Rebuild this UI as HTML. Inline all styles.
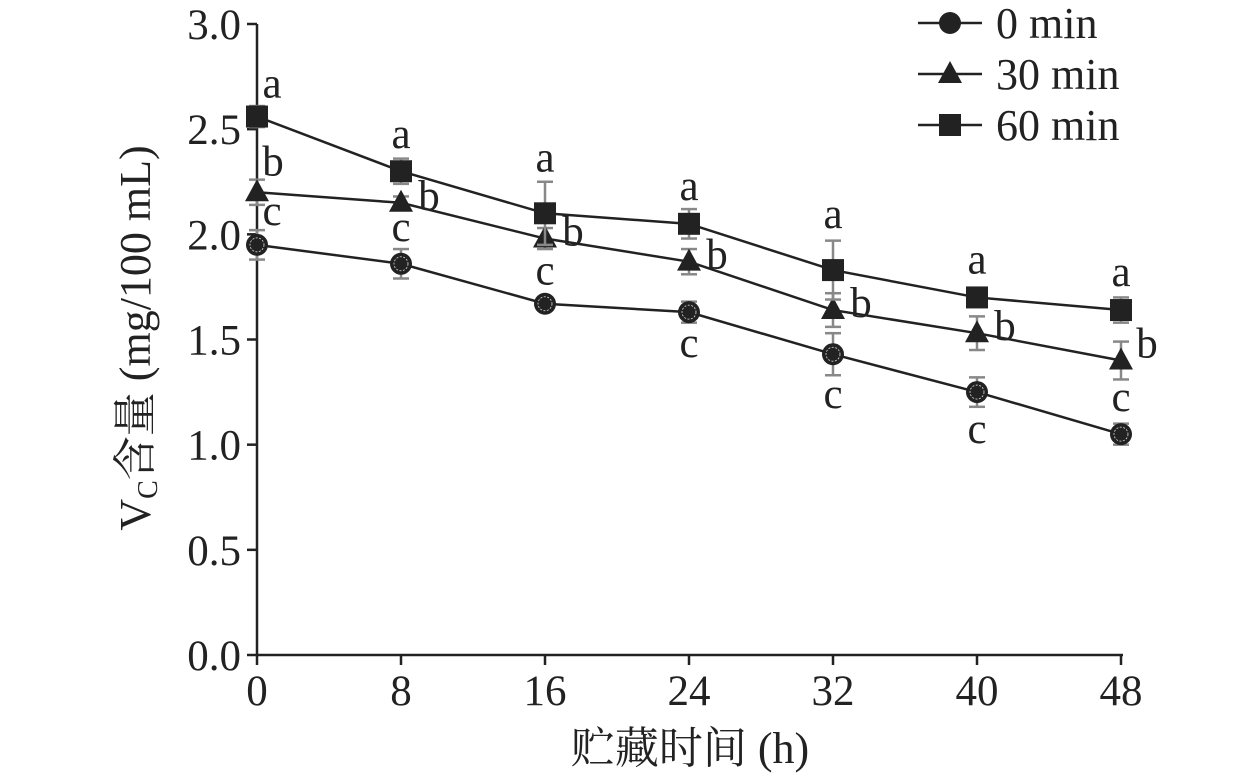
<!DOCTYPE html>
<html><head><meta charset="utf-8">
<style>
html,body{margin:0;padding:0;background:#fff;}
svg{display:block;font-family:"Liberation Serif","Noto Serif CJK SC",serif;}
</style></head>
<body>
<svg id="chart" width="1260" height="783" viewBox="0 0 1260 783" xmlns="http://www.w3.org/2000/svg"></svg>
<script>
const categories = [0, 8, 16, 24, 32, 40, 48];
const series0 = [1.95, 1.86, 1.67, 1.63, 1.43, 1.25, 1.05];
const err0 = [0.07, 0.07, 0.02, 0.05, 0.10, 0.07, 0.05];
const series30 = [2.20, 2.15, 1.98, 1.87, 1.64, 1.53, 1.40];
const err30 = [0.06, 0.03, 0.05, 0.06, 0.08, 0.08, 0.09];
const series60 = [2.56, 2.30, 2.10, 2.05, 1.83, 1.70, 1.64];
const err60 = [0.05, 0.06, 0.15, 0.07, 0.14, 0.03, 0.06];
const letters0 = ['c','c','c','c','c','c','c'];
const letters30 = ['b','b','b','b','b','b','b'];
const letters60 = ['a','a','a','a','a','a','a'];
const yTicks = ['0.0','0.5','1.0','1.5','2.0','2.5','3.0'];
const xTicks = ['0','8','16','24','32','40','48'];

const svg = document.getElementById('chart');
const NS = 'http://www.w3.org/2000/svg';
const X0 = 257, X1 = 1121, Y0 = 655, Y1 = 24;
const xs = v => X0 + (v - 0) / 48 * (X1 - X0);
const ys = v => Y0 - v / 3 * (Y0 - Y1);
function mk(tag, attrs, parent) {
  const e = document.createElementNS(NS, tag);
  for (const k in attrs) e.setAttribute(k, attrs[k]);
  (parent || svg).appendChild(e);
  return e;
}
const FS = 43;
let ax = mk('g', {});


mk('line', {x1: X0, y1: Y1, x2: X0, y2: Y0, stroke: '#222', 'stroke-width': 2.5}, ax);
mk('line', {x1: X0, y1: Y0, x2: X1 + 2, y2: Y0, stroke: '#222', 'stroke-width': 2.5}, ax);
yTicks.forEach(t => {
  const y = ys(parseFloat(t));
  mk('line', {x1: X0 - 10, y1: y, x2: X0, y2: y, stroke: '#222', 'stroke-width': 2.5}, ax);
  const tx = mk('text', {x: X0 - 16, y: y + 15, 'text-anchor': 'end', 'font-size': FS, fill: '#222'}, ax);
  tx.textContent = t;
  
  
});
xTicks.forEach(t => {
  const x = xs(parseFloat(t));
  mk('line', {x1: x, y1: Y0, x2: x, y2: Y0 + 10, stroke: '#222', 'stroke-width': 2.5}, ax);
  const tx = mk('text', {x: x, y: Y0 + 50, 'text-anchor': 'middle', 'font-size': FS, fill: '#222'}, ax);
  tx.textContent = t;
  
  
});
const xt = mk('text', {x: 690, y: 763, 'text-anchor': 'middle', 'font-size': 44, fill: '#222'});
xt.textContent = '贮藏时间 (h)';


const yt = mk('text', {x: 0, y: 0, 'text-anchor': 'middle', 'font-size': 44, fill: '#222', transform: 'translate(150,338) rotate(-90)'});
yt.innerHTML = 'V<tspan font-size="28" dy="7">C</tspan><tspan dy="-7">含量 (mg/100 mL)</tspan>';



function marker(g, type, x, y) {
  if (type === 'circle') {
    mk('circle', {cx: x, cy: y, r: 11, fill: '#222'}, g);
    mk('circle', {cx: x, cy: y, r: 7, fill: 'none', stroke: '#ddd', 'stroke-width': 0.8, 'stroke-dasharray': '2 1.5'}, g);
  } else if (type === 'circleSolid') {
    mk('circle', {cx: x, cy: y, r: 11, fill: '#222'}, g);
  } else if (type === 'tri') {
    mk('polygon', {points: `${x},${y-13} ${x-12},${y+9} ${x+12},${y+9}`, fill: '#222'}, g);
  } else {
    mk('rect', {x: x - 11, y: y - 11, width: 22, height: 22, fill: '#222'}, g);
  }
}
function off0(i) { return [[15,-33],[0,-36],[0,-32],[0,32],[0,41],[0,38],[0,-36]][i]; }
function off30(i) { return i === 0 ? [16,-30] : (i === 6 ? [26,-16] : [28,-6]); }
function off60(i) { return [[15,-32],[0,-36],[0,-55],[0,-37],[0,-55],[0,-37],[0,-37]][i]; }

function drawSeries(name, vals, errs, letters, type, off) {
  const g = mk('g', {});
  
  
  const pts = categories.map((c, i) => xs(c) + ',' + ys(vals[i])).join(' ');
  mk('polyline', {points: pts, fill: 'none', stroke: '#222', 'stroke-width': 2.5}, g);
  categories.forEach((c, i) => {
    const x = xs(c), yh = ys(vals[i] + errs[i]), yl = ys(vals[i] - errs[i]);
    const eb = mk('g', {stroke: '#888', 'stroke-width': 2.5}, g);
    
    
    mk('line', {x1: x, y1: yh, x2: x, y2: yl}, eb);
    mk('line', {x1: x - 8, y1: yh, x2: x + 8, y2: yh}, eb);
    mk('line', {x1: x - 8, y1: yl, x2: x + 8, y2: yl}, eb);
  });
  categories.forEach((c, i) => {
    const x = xs(c), y = ys(vals[i]);
    const mg = mk('g', {}, g);
    
    
    marker(mg, type, x, y);
    const o = off(i);
    const t = mk('text', {x: x + o[0], y: y + o[1] + 13, 'text-anchor': 'middle', 'font-size': FS, fill: '#222'}, g);
    t.textContent = letters[i];
    
    
  });
}
drawSeries('series-0-min', series0, err0, letters0, 'circle', off0);
drawSeries('series-30-min', series30, err30, letters30, 'tri', off30);
drawSeries('series-60-min', series60, err60, letters60, 'sq', off60);

const lg = mk('g', {});


[['0 min','circleSolid',23],['30 min','tri',74],['60 min','sq',125]].forEach(([lab, type, y]) => {
  const e = mk('g', {}, lg);
  
  
  mk('line', {x1: 918, y1: y, x2: 982, y2: y, stroke: '#222', 'stroke-width': 2.5}, e);
  marker(e, type, 950, y);
  const t = mk('text', {x: 996, y: y + 15, 'font-size': 44, fill: '#222'}, e);
  t.textContent = lab;
});
</script>
</body></html>
